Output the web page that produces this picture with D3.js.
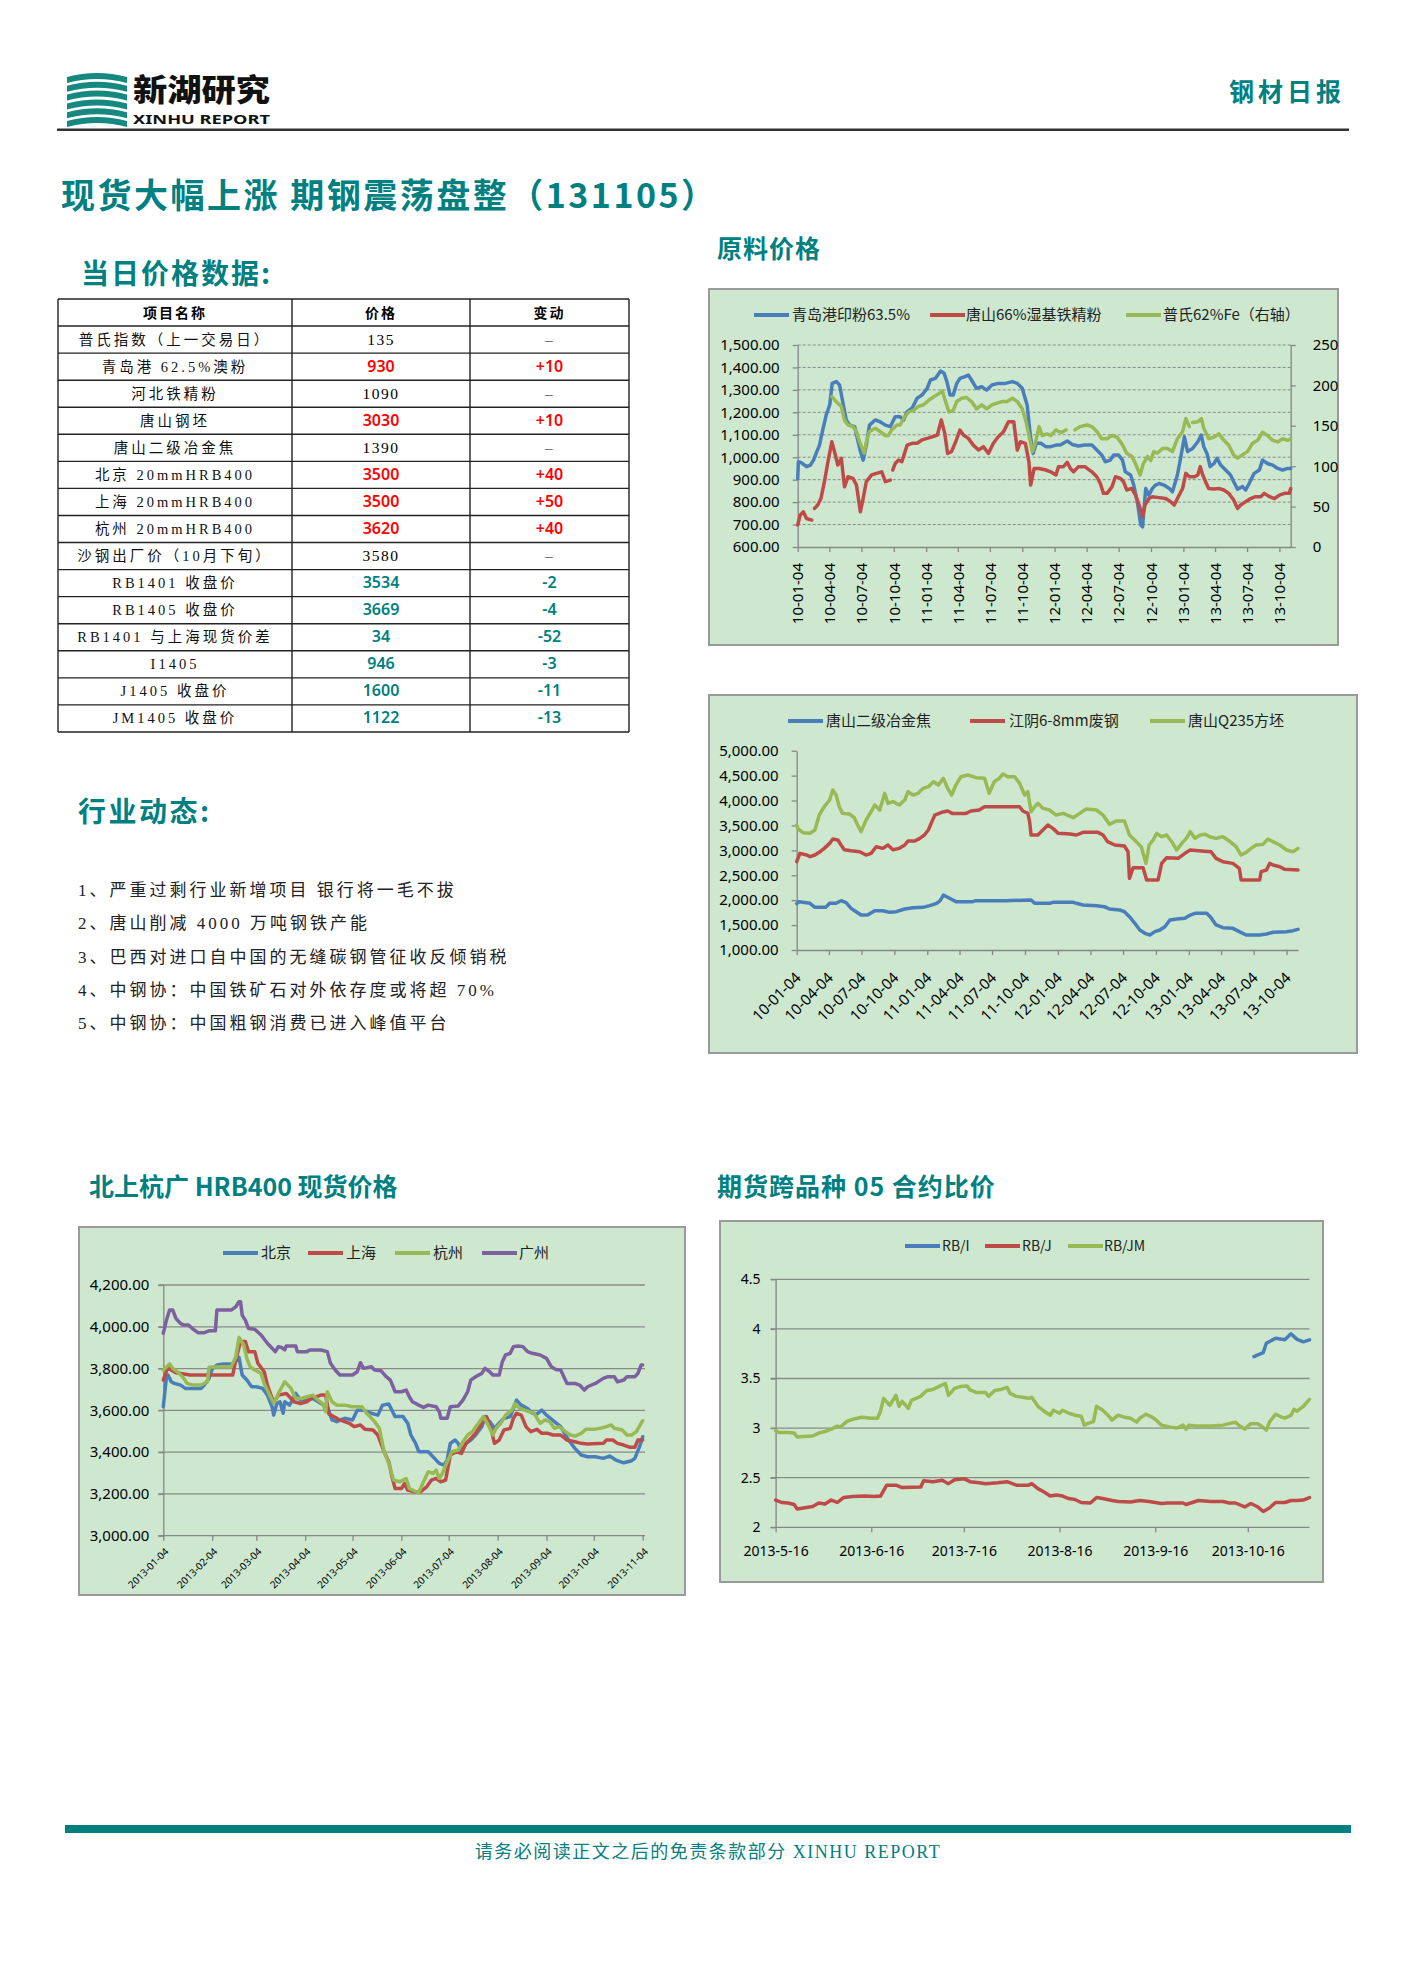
<!DOCTYPE html>
<html>
<head>
<meta charset="utf-8">
<script src="https://cdn.jsdelivr.net/npm/d3@7"></script>
<style>
  body { margin: 0; background: #fff; }
</style>
</head>
<body>
<svg id="page" width="1403" height="1985"></svg>
<script>
// ---------- data ----------
const itemNames = ["普氏指数（上一交易日）", "青岛港 62.5%澳粉", "河北铁精粉", "唐山钢坯", "唐山二级冶金焦",
  "北京 20mmHRB400", "上海 20mmHRB400", "杭州 20mmHRB400", "沙钢出厂价（10月下旬）", "RB1401 收盘价",
  "RB1405 收盘价", "RB1401 与上海现货价差", "I1405", "J1405 收盘价", "JM1405 收盘价"];
const itemPrices = ["135", "930", "1090", "3030", "1390", "3500", "3500", "3620", "3580", "3534", "3669", "34", "946", "1600", "1122"];
const itemChanges = ["–", "+10", "–", "+10", "–", "+40", "+50", "+40", "–", "-2", "-4", "-52", "-3", "-11", "-13"];
const tableHeader = ["项目名称", "价格", "变动"];

const newsItems = ["1、严重过剩行业新增项目  银行将一毛不拔", "2、唐山削减 4000 万吨钢铁产能",
  "3、巴西对进口自中国的无缝碳钢管征收反倾销税", "4、中钢协：中国铁矿石对外依存度或将超 70%",
  "5、中钢协：中国粗钢消费已进入峰值平台"];

const quarterTicks = ["2010-01-04", "2010-04-04", "2010-07-04", "2010-10-04", "2011-01-04", "2011-04-04", "2011-07-04", "2011-10-04",
  "2012-01-04", "2012-04-04", "2012-07-04", "2012-10-04", "2013-01-04", "2013-04-04", "2013-07-04", "2013-10-04"];

// chart 1: 原料价格
const oreNames = ["青岛港印粉63.5%", "唐山66%湿基铁精粉", "普氏62%Fe（右轴）"];
const oreQingdao = [["2010-01-04",905],["2010-01-06",980],["2010-01-15",975],["2010-01-29",958],["2010-02-09",965],["2010-02-18",987],["2010-02-27",1024],["2010-03-07",1054],["2010-03-16",1121],["2010-03-26",1188],["2010-04-05",1233],["2010-04-12",1329],["2010-04-24",1337],["2010-05-03",1322],["2010-05-12",1247],["2010-05-22",1166],["2010-06-01",1143],["2010-06-15",1136],["2010-06-29",1039],["2010-07-09",987],["2010-07-18",1054],["2010-07-27",1143],["2010-08-12",1166],["2010-08-26",1158],["2010-09-10",1143],["2010-09-24",1136],["2010-10-08",1180],["2010-10-22",1180],["2010-11-01",1166],["2010-11-11",1203],["2010-11-25",1218],["2010-12-09",1262],["2010-12-23",1277],["2011-01-07",1307],["2011-01-16",1344],["2011-01-30",1351],["2011-02-14",1384],["2011-02-24",1374],["2011-03-04",1337],["2011-03-13",1277],["2011-03-22",1277],["2011-04-01",1329],["2011-04-10",1351],["2011-04-24",1359],["2011-05-04",1366],["2011-05-13",1344],["2011-05-27",1307],["2011-06-11",1314],["2011-06-25",1299],["2011-07-10",1322],["2011-07-28",1329],["2011-08-17",1329],["2011-09-06",1337],["2011-09-20",1329],["2011-10-04",1307],["2011-10-18",1233],["2011-10-27",1099],["2011-11-04",1017],["2011-11-13",1062],["2011-11-26",1062],["2011-12-10",1047],["2011-12-24",1047],["2012-01-08",1054],["2012-01-20",1054],["2012-02-09",1072],["2012-02-23",1057],["2012-03-12",1050],["2012-03-30",1054],["2012-04-19",1054],["2012-05-03",1032],["2012-05-17",1010],["2012-05-27",980],["2012-06-10",987],["2012-06-20",1010],["2012-07-04",1010],["2012-07-15",987],["2012-07-23",935],["2012-08-07",921],["2012-08-16",876],["2012-08-26",802],["2012-09-05",698],["2012-09-10",690],["2012-09-19",861],["2012-09-28",831],["2012-10-08",861],["2012-10-17",876],["2012-10-27",883],["2012-11-10",876],["2012-11-25",861],["2012-12-04",846],["2012-12-18",921],["2012-12-27",995],["2013-01-07",1091],["2013-01-16",1025],["2013-01-30",1039],["2013-02-14",1069],["2013-02-24",1099],["2013-03-03",1047],["2013-03-12",1017],["2013-03-21",958],["2013-04-01",972],["2013-04-10",995],["2013-04-20",965],["2013-05-04",943],["2013-05-18",921],["2013-05-27",891],["2013-06-07",858],["2013-06-21",869],["2013-06-30",854],["2013-07-10",883],["2013-07-24",928],["2013-08-08",943],["2013-08-17",987],["2013-08-31",972],["2013-09-15",965],["2013-09-29",950],["2013-10-13",943],["2013-10-27",950],["2013-11-05",950]];
const oreTangshan = [["2010-01-04",698],["2010-01-11",742],["2010-01-20",757],["2010-01-29",727],["2010-02-13",720],["2010-02-17",null],["2010-02-21",772],["2010-03-02",787],["2010-03-11",816],["2010-03-21",891],["2010-03-30",972],["2010-04-11",1069],["2010-04-21",1010],["2010-04-28",965],["2010-05-08",995],["2010-05-17",868],["2010-05-27",913],["2010-06-10",906],["2010-06-20",876],["2010-07-01",757],["2010-07-09",816],["2010-07-18",891],["2010-08-02",921],["2010-08-16",928],["2010-08-31",935],["2010-09-10",891],["2010-09-24",898],["2010-09-28",null],["2010-10-01",943],["2010-10-08",972],["2010-10-17",987],["2010-10-27",980],["2010-11-11",1054],["2010-11-25",1062],["2010-12-09",1062],["2010-12-23",1077],["2011-01-07",1084],["2011-01-21",1091],["2011-02-05",1099],["2011-02-16",1166],["2011-02-26",1106],["2011-03-06",1017],["2011-03-17",1025],["2011-03-29",1069],["2011-04-10",1121],["2011-04-20",1099],["2011-05-04",1084],["2011-05-18",1054],["2011-06-02",1032],["2011-06-16",1047],["2011-06-30",1017],["2011-07-14",1062],["2011-07-28",1091],["2011-08-12",1114],["2011-08-26",1158],["2011-09-10",1158],["2011-09-20",1032],["2011-09-29",1069],["2011-10-13",1062],["2011-10-23",980],["2011-10-28",876],["2011-11-07",950],["2011-11-21",950],["2011-12-10",943],["2011-12-24",935],["2012-01-08",921],["2012-01-15",958],["2012-01-29",958],["2012-02-09",977],["2012-02-18",950],["2012-02-27",935],["2012-03-12",958],["2012-03-30",958],["2012-04-19",935],["2012-05-03",913],["2012-05-13",883],["2012-05-22",839],["2012-06-01",839],["2012-06-15",868],["2012-06-25",913],["2012-07-09",906],["2012-07-18",891],["2012-07-27",854],["2012-08-10",861],["2012-08-21",831],["2012-08-31",787],["2012-09-10",735],["2012-09-17",787],["2012-09-28",816],["2012-10-08",824],["2012-10-27",820],["2012-11-15",816],["2012-11-29",802],["2012-12-09",787],["2012-12-18",816],["2013-01-02",861],["2013-01-11",928],["2013-01-21",913],["2013-02-05",913],["2013-02-14",921],["2013-02-21",958],["2013-02-28",921],["2013-03-08",891],["2013-03-17",861],["2013-04-01",858],["2013-04-15",861],["2013-04-29",854],["2013-05-13",839],["2013-05-27",809],["2013-06-07",772],["2013-06-16",787],["2013-06-30",802],["2013-07-14",816],["2013-07-28",824],["2013-08-12",824],["2013-08-22",839],["2013-09-06",824],["2013-09-20",816],["2013-10-04",831],["2013-10-18",839],["2013-11-01",839],["2013-11-05",861]];
const orePlatts = [["2010-04-11",186],["2010-04-19",182],["2010-04-28",178],["2010-05-08",174],["2010-05-17",157],["2010-05-27",151],["2010-06-10",149],["2010-06-20",143],["2010-06-29",130],["2010-07-12",116],["2010-07-18",130],["2010-07-27",143],["2010-08-12",147],["2010-08-26",143],["2010-09-10",138],["2010-09-19",138],["2010-09-28",145],["2010-10-13",151],["2010-10-22",151],["2010-11-01",159],["2010-11-15",167],["2010-11-29",169],["2010-12-13",174],["2010-12-28",176],["2011-01-12",182],["2011-01-26",186],["2011-02-10",190],["2011-02-19",193],["2011-02-28",180],["2011-03-10",167],["2011-03-22",169],["2011-04-01",180],["2011-04-15",184],["2011-04-29",185],["2011-05-13",180],["2011-05-27",171],["2011-06-11",176],["2011-06-25",171],["2011-07-10",176],["2011-07-24",178],["2011-08-08",180],["2011-08-22",180],["2011-09-06",184],["2011-09-20",180],["2011-10-04",171],["2011-10-15",155],["2011-10-23",138],["2011-11-02",118],["2011-11-11",130],["2011-11-21",149],["2011-11-30",138],["2011-12-14",140],["2011-12-24",138],["2012-01-08",145],["2012-01-15",143],["2012-01-25",142],["2012-02-06",145],["2012-02-20",null],["2012-03-02",145],["2012-03-16",149],["2012-04-05",151],["2012-04-19",149],["2012-05-03",143],["2012-05-17",134],["2012-06-01",134],["2012-06-15",138],["2012-06-29",136],["2012-07-13",128],["2012-07-27",116],["2012-08-11",112],["2012-08-21",103],["2012-09-03",89],["2012-09-12",103],["2012-09-24",112],["2012-10-03",107],["2012-10-12",118],["2012-10-22",116],["2012-11-06",122],["2012-11-20",122],["2012-12-04",118],["2012-12-18",134],["2013-01-02",143],["2013-01-11",159],["2013-01-21",149],["2013-01-24",null],["2013-01-30",154],["2013-02-14",155],["2013-02-24",159],["2013-03-03",147],["2013-03-17",134],["2013-04-01",136],["2013-04-15",140],["2013-04-29",132],["2013-05-13",126],["2013-05-27",114],["2013-06-07",110],["2013-06-21",114],["2013-07-05",118],["2013-07-19",128],["2013-08-03",132],["2013-08-17",142],["2013-08-31",138],["2013-09-15",132],["2013-09-29",130],["2013-10-13",134],["2013-10-27",132],["2013-11-05",134]];

// chart 2: 焦炭 / 废钢 / 方坯
const rawNames = ["唐山二级冶金焦", "江阴6-8mm废钢", "唐山Q235方坯"];
const rawCoke = [["2010-01-04",1930],["2010-01-10",1970],["2010-02-01",1950],["2010-02-10",1937],["2010-02-24",1856],["2010-03-26",1856],["2010-04-06",1937],["2010-04-24",1937],["2010-05-08",1990],["2010-05-22",1950],["2010-06-05",1836],["2010-06-19",1769],["2010-07-03",1702],["2010-07-21",1702],["2010-08-10",1789],["2010-09-02",1789],["2010-09-21",1756],["2010-10-09",1769],["2010-11-02",1823],["2010-11-25",1850],["2010-12-23",1856],["2011-01-11",1890],["2011-01-30",1937],["2011-02-09",1990],["2011-02-18",2104],["2011-02-27",2070],["2011-03-11",2023],["2011-03-25",1970],["2011-05-11",1970],["2011-05-20",1990],["2011-08-12",1990],["2011-10-21",2003],["2011-10-31",1937],["2011-12-12",1937],["2011-12-21",1956],["2012-02-16",1956],["2012-02-25",1937],["2012-03-14",1903],["2012-04-21",1890],["2012-05-13",1870],["2012-05-27",1823],["2012-06-25",1803],["2012-07-08",1769],["2012-07-22",1669],["2012-08-06",1536],["2012-08-20",1401],["2012-09-03",1335],["2012-09-17",1301],["2012-10-01",1368],["2012-10-15",1401],["2012-10-29",1468],["2012-11-12",1602],["2012-12-01",1622],["2012-12-24",1636],["2013-01-08",1702],["2013-01-21",1736],["2013-02-23",1736],["2013-03-07",1649],["2013-03-21",1502],["2013-04-09",1448],["2013-05-07",1435],["2013-05-25",1368],["2013-06-13",1301],["2013-07-21",1301],["2013-08-09",1321],["2013-08-27",1355],["2013-10-04",1368],["2013-10-22",1388],["2013-11-05",1415]];
const rawScrap = [["2010-01-04",2773],["2010-01-13",2940],["2010-02-01",2906],["2010-02-10",2873],["2010-02-24",2906],["2010-03-08",2960],["2010-03-22",3040],["2010-04-06",3140],["2010-04-15",3227],["2010-04-29",3207],["2010-05-08",3107],["2010-05-17",3013],["2010-06-05",2993],["2010-06-29",2973],["2010-07-17",2906],["2010-07-31",2940],["2010-08-14",3073],["2010-09-02",3040],["2010-09-16",3107],["2010-09-30",3013],["2010-10-18",3040],["2010-11-02",3107],["2010-11-11",3187],["2010-11-30",3187],["2010-12-14",3241],["2010-12-27",3308],["2011-01-07",3408],["2011-01-16",3562],["2011-01-25",3709],["2011-02-13",3763],["2011-03-02",3789],["2011-03-15",3742],["2011-04-22",3742],["2011-05-06",3789],["2011-05-29",3809],["2011-06-13",3876],["2011-09-19",3876],["2011-09-28",3789],["2011-10-12",3742],["2011-10-17",3575],["2011-10-21",3308],["2011-11-09",3308],["2011-11-23",3408],["2011-12-07",3508],["2011-12-21",3441],["2012-01-05",3341],["2012-02-07",3328],["2012-02-25",3308],["2012-03-14",3361],["2012-04-25",3361],["2012-05-09",3308],["2012-05-22",3174],["2012-06-11",3107],["2012-07-08",3087],["2012-07-18",2973],["2012-07-22",2438],["2012-08-01",2652],["2012-08-29",2652],["2012-09-08",2405],["2012-10-10",2405],["2012-10-20",2739],["2012-11-03",2853],["2012-12-05",2840],["2012-12-24",2940],["2013-01-08",3007],["2013-01-30",2993],["2013-03-07",2973],["2013-03-21",2840],["2013-04-09",2773],["2013-05-07",2739],["2013-05-25",2639],["2013-05-30",2405],["2013-07-21",2405],["2013-07-25",2572],["2013-08-09",2605],["2013-08-18",2739],["2013-08-27",2706],["2013-09-15",2672],["2013-09-29",2619],["2013-11-05",2605]];
const rawBillet = [["2010-01-04",3508],["2010-01-08",3428],["2010-01-22",3354],["2010-02-10",3341],["2010-02-24",3408],["2010-03-08",3709],["2010-03-22",3876],["2010-04-06",4010],["2010-04-15",4211],["2010-04-24",4110],["2010-05-03",3876],["2010-05-12",3742],["2010-05-31",3729],["2010-06-14",3655],["2010-06-23",3508],["2010-07-03",3375],["2010-07-17",3609],["2010-07-31",3776],["2010-08-10",3910],["2010-08-24",3809],["2010-09-07",4144],["2010-09-16",3943],["2010-09-30",3977],["2010-10-18",3910],["2010-11-02",4010],["2010-11-11",4177],["2010-11-25",4110],["2010-12-09",4144],["2010-12-23",4244],["2011-01-07",4278],["2011-01-21",4378],["2011-02-04",4311],["2011-02-18",4445],["2011-03-02",4244],["2011-03-13",4110],["2011-03-25",4311],["2011-04-08",4478],["2011-04-27",4512],["2011-05-20",4458],["2011-06-13",4445],["2011-06-26",4144],["2011-07-10",4378],["2011-07-24",4445],["2011-08-03",4532],["2011-08-17",4478],["2011-09-05",4478],["2011-09-19",4345],["2011-10-03",4110],["2011-10-12",4177],["2011-10-21",3776],["2011-10-31",3876],["2011-11-09",3943],["2011-11-23",3843],["2011-12-12",3809],["2011-12-30",3709],["2012-01-19",3742],["2012-02-16",3655],["2012-03-05",3742],["2012-03-23",3829],["2012-04-21",3809],["2012-05-09",3709],["2012-05-27",3522],["2012-06-15",3589],["2012-07-08",3589],["2012-07-22",3308],["2012-08-10",3174],["2012-08-24",3074],["2012-09-06",2739],["2012-09-15",3107],["2012-09-26",3207],["2012-10-06",3341],["2012-10-20",3274],["2012-11-03",3308],["2012-11-17",3174],["2012-12-01",3007],["2012-12-15",3140],["2012-12-28",3241],["2013-01-08",3375],["2013-01-21",3241],["2013-02-05",3308],["2013-02-19",3321],["2013-03-03",3274],["2013-03-21",3241],["2013-04-09",3274],["2013-04-27",3187],["2013-05-16",3074],["2013-05-30",2906],["2013-06-13",2960],["2013-06-27",3040],["2013-07-11",3107],["2013-07-30",3120],["2013-08-13",3227],["2013-08-27",3174],["2013-09-15",3107],["2013-10-04",3007],["2013-10-22",2973],["2013-11-05",3040]];

// chart 3: 北上杭广 HRB400
const cityNames = ["北京", "上海", "杭州", "广州"];
const monthTicks = ["2013-01-04", "2013-02-04", "2013-03-04", "2013-04-04", "2013-05-04", "2013-06-04", "2013-07-04", "2013-08-04", "2013-09-04", "2013-10-04", "2013-11-04"];
const hrbBeijing = [["2013-01-04",3617],["2013-01-06",3761],["2013-01-07",3769],["2013-01-09",3737],["2013-01-11",3729],["2013-01-15",3721],["2013-01-18",3705],["2013-01-28",3705],["2013-01-30",3721],["2013-02-02",3753],["2013-02-04",3798],["2013-02-07",3817],["2013-02-11",3822],["2013-02-17",3822],["2013-02-21",3854],["2013-02-23",3769],["2013-02-26",3745],["2013-03-01",3713],["2013-03-04",3713],["2013-03-08",3705],["2013-03-11",3673],["2013-03-14",3617],["2013-03-15",3577],["2013-03-17",3633],["2013-03-19",3641],["2013-03-21",3586],["2013-03-22",3641],["2013-03-25",3625],["2013-03-27",3649],["2013-03-29",3681],["2013-04-01",3649],["2013-04-05",3649],["2013-04-09",3657],["2013-04-14",3633],["2013-04-18",3617],["2013-04-21",3554],["2013-04-24",3546],["2013-04-29",3562],["2013-05-04",3554],["2013-05-07",3601],["2013-05-11",3601],["2013-05-16",3586],["2013-05-20",3577],["2013-05-23",3625],["2013-05-27",3630],["2013-05-31",3570],["2013-06-05",3570],["2013-06-08",3538],["2013-06-10",3482],["2013-06-13",3442],["2013-06-15",3402],["2013-06-21",3402],["2013-06-25",3370],["2013-06-28",3346],["2013-07-01",3338],["2013-07-03",3362],["2013-07-05",3442],["2013-07-08",3458],["2013-07-10",3442],["2013-07-12",3402],["2013-07-15",3442],["2013-07-18",3458],["2013-07-21",3482],["2013-07-25",3522],["2013-07-27",3570],["2013-07-30",3546],["2013-08-02",3514],["2013-08-05",3538],["2013-08-08",3562],["2013-08-12",3570],["2013-08-16",3649],["2013-08-19",3625],["2013-08-23",3609],["2013-08-26",3586],["2013-08-29",3583],["2013-09-01",3601],["2013-09-04",3577],["2013-09-09",3546],["2013-09-13",3522],["2013-09-18",3458],["2013-09-22",3418],["2013-09-26",3386],["2013-09-30",3378],["2013-10-05",3378],["2013-10-10",3370],["2013-10-14",3381],["2013-10-18",3362],["2013-10-23",3349],["2013-10-28",3359],["2013-10-30",3370],["2013-11-02",3426],["2013-11-04",3474]];
const hrbShanghai = [["2013-01-04",3745],["2013-01-07",3809],["2013-01-09",3793],["2013-01-12",3780],["2013-01-17",3774],["2013-01-21",3769],["2013-02-17",3769],["2013-02-19",3841],["2013-02-22",3929],["2013-02-25",3929],["2013-02-27",3881],["2013-03-03",3881],["2013-03-05",3825],["2013-03-09",3785],["2013-03-11",3721],["2013-03-14",3657],["2013-03-16",3649],["2013-03-18",3673],["2013-03-23",3681],["2013-03-28",3641],["2013-04-01",3633],["2013-04-05",3641],["2013-04-08",3657],["2013-04-14",3673],["2013-04-17",3673],["2013-04-19",3583],["2013-04-22",3570],["2013-04-26",3554],["2013-05-02",3538],["2013-05-05",3522],["2013-05-09",3530],["2013-05-12",3509],["2013-05-17",3506],["2013-05-20",3482],["2013-05-24",3402],["2013-05-27",3354],["2013-05-29",3282],["2013-05-31",3226],["2013-06-04",3226],["2013-06-06",3250],["2013-06-08",3218],["2013-06-12",3210],["2013-06-16",3210],["2013-06-20",3234],["2013-06-23",3266],["2013-06-26",3274],["2013-06-29",3258],["2013-07-02",3266],["2013-07-05",3386],["2013-07-09",3402],["2013-07-12",3394],["2013-07-15",3442],["2013-07-18",3466],["2013-07-21",3490],["2013-07-25",3538],["2013-07-28",3570],["2013-07-31",3506],["2013-08-02",3442],["2013-08-05",3458],["2013-08-08",3506],["2013-08-12",3514],["2013-08-14",3562],["2013-08-16",3586],["2013-08-19",3577],["2013-08-22",3522],["2013-08-25",3498],["2013-08-29",3509],["2013-09-01",3490],["2013-09-05",3490],["2013-09-08",3482],["2013-09-13",3482],["2013-09-17",3458],["2013-09-22",3450],["2013-09-26",3442],["2013-09-30",3439],["2013-10-10",3442],["2013-10-12",3458],["2013-10-16",3458],["2013-10-19",3442],["2013-10-23",3434],["2013-10-27",3423],["2013-10-30",3423],["2013-11-01",3458],["2013-11-04",3458]];
const hrbHangzhou = [["2013-01-04",3793],["2013-01-08",3822],["2013-01-10",3801],["2013-01-14",3777],["2013-01-17",3753],["2013-01-19",3729],["2013-01-23",3721],["2013-01-28",3721],["2013-02-01",3737],["2013-02-02",3806],["2013-02-07",3809],["2013-02-16",3809],["2013-02-19",3857],["2013-02-21",3949],["2013-02-24",3913],["2013-02-26",3849],["2013-02-28",3809],["2013-03-03",3793],["2013-03-07",3777],["2013-03-09",3729],["2013-03-12",3681],["2013-03-15",3633],["2013-03-18",3681],["2013-03-22",3737],["2013-03-26",3705],["2013-03-29",3657],["2013-04-02",3657],["2013-04-05",3665],["2013-04-09",3673],["2013-04-12",3649],["2013-04-15",3633],["2013-04-17",3594],["2013-04-18",3689],["2013-04-21",3641],["2013-04-24",3625],["2013-04-29",3625],["2013-05-04",3617],["2013-05-10",3617],["2013-05-13",3586],["2013-05-18",3546],["2013-05-21",3514],["2013-05-24",3402],["2013-05-27",3346],["2013-05-30",3266],["2013-06-03",3258],["2013-06-07",3274],["2013-06-09",3226],["2013-06-12",3215],["2013-06-15",3206],["2013-06-17",3242],["2013-06-21",3306],["2013-06-24",3298],["2013-06-26",3314],["2013-06-28",3274],["2013-06-30",3298],["2013-07-03",3354],["2013-07-06",3402],["2013-07-10",3410],["2013-07-13",3450],["2013-07-16",3482],["2013-07-19",3498],["2013-07-22",3530],["2013-07-26",3570],["2013-07-29",3530],["2013-08-01",3482],["2013-08-03",3514],["2013-08-06",3538],["2013-08-09",3577],["2013-08-13",3601],["2013-08-15",3633],["2013-08-18",3609],["2013-08-21",3601],["2013-08-27",3586],["2013-08-31",3538],["2013-09-03",3554],["2013-09-06",3546],["2013-09-09",3514],["2013-09-12",3522],["2013-09-16",3498],["2013-09-19",3482],["2013-09-22",3477],["2013-09-26",3490],["2013-09-29",3509],["2013-10-04",3509],["2013-10-08",3514],["2013-10-12",3522],["2013-10-15",3530],["2013-10-17",3514],["2013-10-22",3506],["2013-10-25",3482],["2013-10-28",3482],["2013-10-31",3498],["2013-11-03",3538],["2013-11-04",3550]];
const hrbGuangzhou = [["2013-01-04",3969],["2013-01-06",4032],["2013-01-08",4080],["2013-01-10",4080],["2013-01-12",4040],["2013-01-15",4016],["2013-01-17",4008],["2013-01-20",4008],["2013-01-23",3988],["2013-01-26",3972],["2013-01-30",3972],["2013-02-02",3981],["2013-02-06",3981],["2013-02-07",4080],["2013-02-16",4080],["2013-02-19",4096],["2013-02-21",4120],["2013-02-22",4120],["2013-02-23",4056],["2013-02-25",4032],["2013-02-27",3992],["2013-03-03",3988],["2013-03-07",3961],["2013-03-11",3921],["2013-03-14",3897],["2013-03-16",3881],["2013-03-18",3905],["2013-03-20",3901],["2013-03-22",3889],["2013-03-23",3908],["2013-03-29",3908],["2013-03-30",3881],["2013-04-05",3881],["2013-04-07",3889],["2013-04-14",3889],["2013-04-18",3881],["2013-04-20",3825],["2013-04-23",3793],["2013-04-26",3769],["2013-05-04",3769],["2013-05-07",3785],["2013-05-09",3828],["2013-05-11",3801],["2013-05-16",3809],["2013-05-18",3793],["2013-05-22",3790],["2013-05-25",3764],["2013-05-28",3745],["2013-05-31",3689],["2013-06-04",3689],["2013-06-07",3697],["2013-06-09",3665],["2013-06-11",3641],["2013-06-15",3625],["2013-06-18",3614],["2013-06-21",3625],["2013-06-26",3617],["2013-06-28",3594],["2013-06-29",3562],["2013-07-03",3562],["2013-07-05",3617],["2013-07-10",3621],["2013-07-13",3649],["2013-07-16",3689],["2013-07-18",3745],["2013-07-21",3761],["2013-07-25",3777],["2013-07-27",3801],["2013-07-30",3785],["2013-08-01",3769],["2013-08-05",3769],["2013-08-07",3833],["2013-08-09",3865],["2013-08-12",3873],["2013-08-14",3905],["2013-08-17",3908],["2013-08-20",3905],["2013-08-23",3881],["2013-08-26",3873],["2013-08-31",3865],["2013-09-04",3849],["2013-09-07",3809],["2013-09-10",3796],["2013-09-13",3793],["2013-09-17",3729],["2013-09-22",3729],["2013-09-25",3721],["2013-09-28",3697],["2013-09-30",3713],["2013-10-05",3729],["2013-10-10",3753],["2013-10-13",3761],["2013-10-17",3761],["2013-10-19",3737],["2013-10-23",3745],["2013-10-25",3761],["2013-10-30",3761],["2013-11-01",3777],["2013-11-03",3817],["2013-11-04",3817]];

// chart 4: 期货跨品种 05 合约比价
const ratioNames = ["RB/I", "RB/J", "RB/JM"];
const ratioTicks = ["2013-05-16", "2013-06-16", "2013-07-16", "2013-08-16", "2013-09-16", "2013-10-16"];
const ratioRbI = [["2013-10-18",3.72],["2013-10-21",3.76],["2013-10-22",3.855],["2013-10-25",3.905],["2013-10-28",3.89],["2013-10-30",3.95],["2013-11-01",3.895],["2013-11-03",3.87],["2013-11-05",3.89]];
const ratioRbJ = [["2013-05-16",2.275],["2013-05-18",2.25],["2013-05-20",2.245],["2013-05-22",2.23],["2013-05-23",2.185],["2013-05-26",2.2],["2013-05-28",2.21],["2013-05-30",2.245],["2013-06-01",2.235],["2013-06-03",2.275],["2013-06-05",2.25],["2013-06-07",2.3],["2013-06-10",2.31],["2013-06-14",2.315],["2013-06-17",2.31],["2013-06-19",2.315],["2013-06-21",2.425],["2013-06-24",2.425],["2013-06-26",2.4],["2013-07-02",2.405],["2013-07-03",2.47],["2013-07-06",2.46],["2013-07-09",2.475],["2013-07-11",2.44],["2013-07-13",2.48],["2013-07-16",2.49],["2013-07-18",2.46],["2013-07-21",2.45],["2013-07-23",2.44],["2013-07-27",2.45],["2013-07-30",2.46],["2013-08-02",2.425],["2013-08-06",2.425],["2013-08-07",2.44],["2013-08-09",2.39],["2013-08-11",2.355],["2013-08-13",2.315],["2013-08-15",2.325],["2013-08-17",2.315],["2013-08-19",2.29],["2013-08-21",2.28],["2013-08-23",2.25],["2013-08-26",2.245],["2013-08-28",2.3],["2013-08-30",2.29],["2013-09-02",2.27],["2013-09-04",2.26],["2013-09-08",2.255],["2013-09-11",2.27],["2013-09-14",2.26],["2013-09-18",2.24],["2013-09-20",2.245],["2013-09-25",2.245],["2013-09-26",2.23],["2013-09-30",2.27],["2013-10-04",2.26],["2013-10-08",2.26],["2013-10-10",2.245],["2013-10-12",2.245],["2013-10-15",2.205],["2013-10-17",2.24],["2013-10-19",2.21],["2013-10-21",2.16],["2013-10-23",2.195],["2013-10-25",2.25],["2013-10-28",2.25],["2013-10-30",2.27],["2013-11-01",2.27],["2013-11-03",2.275],["2013-11-05",2.3]];
const ratioRbJm = [["2013-05-16",2.975],["2013-05-17",2.955],["2013-05-20",2.955],["2013-05-22",2.95],["2013-05-23",2.91],["2013-05-25",2.915],["2013-05-28",2.92],["2013-05-30",2.95],["2013-06-01",2.965],["2013-06-03",2.99],["2013-06-05",3.02],["2013-06-06",3.01],["2013-06-08",3.065],["2013-06-10",3.09],["2013-06-13",3.11],["2013-06-16",3.1],["2013-06-18",3.1],["2013-06-19",3.17],["2013-06-20",3.3],["2013-06-22",3.23],["2013-06-24",3.33],["2013-06-25",3.22],["2013-06-26",3.27],["2013-06-28",3.2],["2013-06-29",3.28],["2013-07-02",3.32],["2013-07-04",3.38],["2013-07-06",3.39],["2013-07-08",3.42],["2013-07-10",3.45],["2013-07-11",3.33],["2013-07-13",3.4],["2013-07-15",3.42],["2013-07-17",3.425],["2013-07-18",3.385],["2013-07-20",3.36],["2013-07-23",3.36],["2013-07-24",3.32],["2013-07-26",3.38],["2013-07-28",3.39],["2013-07-30",3.41],["2013-07-31",3.35],["2013-08-02",3.32],["2013-08-04",3.31],["2013-08-06",3.3],["2013-08-07",3.31],["2013-08-09",3.22],["2013-08-11",3.17],["2013-08-13",3.13],["2013-08-14",3.18],["2013-08-16",3.15],["2013-08-17",3.18],["2013-08-19",3.15],["2013-08-21",3.13],["2013-08-23",3.12],["2013-08-24",3.03],["2013-08-25",3.045],["2013-08-27",3.065],["2013-08-28",3.22],["2013-08-30",3.18],["2013-09-01",3.12],["2013-09-02",3.08],["2013-09-04",3.13],["2013-09-06",3.11],["2013-09-08",3.1],["2013-09-10",3.06],["2013-09-11",3.1],["2013-09-13",3.14],["2013-09-15",3.11],["2013-09-16",3.09],["2013-09-18",3.03],["2013-09-21",3.01],["2013-09-23",3.0],["2013-09-25",3.03],["2013-09-26",2.99],["2013-09-27",3.03],["2013-09-30",3.02],["2013-10-04",3.02],["2013-10-08",3.03],["2013-10-10",3.045],["2013-10-12",3.06],["2013-10-13",3.03],["2013-10-15",2.99],["2013-10-17",3.045],["2013-10-19",3.045],["2013-10-20",3.03],["2013-10-22",2.98],["2013-10-23",3.06],["2013-10-25",3.14],["2013-10-27",3.11],["2013-10-28",3.1],["2013-10-30",3.13],["2013-10-31",3.19],["2013-11-01",3.17],["2013-11-03",3.22],["2013-11-05",3.29]];

// ---------- page ----------
const svg = d3.select("#page");
const parse = d3.timeParse("%Y-%m-%d");
const teal = "#008080";
const chartBg = "#cde8cf";
const cjk = "'Noto Sans CJK SC', 'Noto Sans', sans-serif";
const serif = "'Liberation Serif', 'Noto Sans CJK SC', serif";
const num = "'Noto Sans', 'Noto Sans CJK SC', sans-serif";
const blue = "#4a7ebb", red = "#be4b48", green = "#98b954", purple = "#7d60a0";

function label(x, y, str, size, color, family, weight, extra) {
  const t = svg.append("text").attr("x", x).attr("y", y).text(str)
    .attr("font-size", size).attr("fill", color).attr("font-family", family)
    .attr("font-weight", weight || 400);
  if (extra) extra(t);
  return t;
}

// header
const logo = svg.append("g").attr("transform", "translate(67,70)");
d3.range(6).forEach(i => {
  const y = 7 + i * 8.8;
  logo.append("path")
    .attr("d", `M0,${y + 6} L0,${y} Q30,${y - 8} 60,${y} L60,${y + 6} Q30,${y - 2} 0,${y + 6} Z`)
    .attr("fill", "#15897f");
});
label(133, 101, "新湖研究", 31, "#111", cjk, 900, t => t.attr("textLength", 137).attr("lengthAdjust", "spacingAndGlyphs"));
label(133, 124, "XINHU REPORT", 13, "#111", num, 700, t => t.attr("textLength", 137).attr("lengthAdjust", "spacingAndGlyphs"));
label(1345, 101, "钢材日报", 25, teal, cjk, 700, t => t.attr("text-anchor", "end").attr("letter-spacing", 4));
svg.append("rect").attr("x", 57).attr("y", 128.5).attr("width", 1292).attr("height", 2.5).attr("fill", "#333");

label(61, 208, "现货大幅上涨  期钢震荡盘整（131105）", 34, teal, cjk, 700, t => t.attr("letter-spacing", 2.5));

// table
label(81, 284, "当日价格数据:", 28, teal, cjk, 700, t => t.attr("letter-spacing", 2));
const colX = [58, 292, 470, 629];
const tblTop = 299, rowH = 27.06;
const tbl = svg.append("g");
const rows = [tableHeader].concat(itemNames.map((n, i) => [n, itemPrices[i], itemChanges[i]]));
rows.forEach((r, i) => {
  const cy = tblTop + i * rowH + rowH / 2 + 5;
  const ch = r[2];
  const col = i === 0 ? "#000" : ch.startsWith("+") ? "#ff0000" : ch.startsWith("-") ? teal : "#000";
  r.forEach((cell, j) => {
    const t = tbl.append("text").attr("x", (colX[j] + colX[j + 1]) / 2).attr("y", cy)
      .attr("text-anchor", "middle").text(cell);
    if (i === 0) {
      t.attr("font-family", cjk).attr("font-weight", 700).attr("font-size", 14).attr("letter-spacing", 2);
    } else if (j === 0) {
      t.attr("font-family", serif).attr("font-size", 14.5).attr("letter-spacing", 3).attr("fill", "#111");
    } else {
      const bold = col !== "#000";
      t.attr("font-family", bold ? num : serif).attr("font-size", bold ? 16 : 15.5)
        .attr("font-weight", bold ? 600 : 400).attr("fill", col).attr("letter-spacing", bold ? 0 : 1.5);
    }
  });
});
d3.range(rows.length + 1).forEach(i => {
  tbl.append("line").attr("x1", colX[0]).attr("x2", colX[3])
    .attr("y1", tblTop + i * rowH).attr("y2", tblTop + i * rowH)
    .attr("stroke", "#222").attr("stroke-width", 1.4);
});
colX.forEach(x => {
  tbl.append("line").attr("x1", x).attr("x2", x).attr("y1", tblTop).attr("y2", tblTop + rows.length * rowH)
    .attr("stroke", "#222").attr("stroke-width", 1.4);
});

// news
label(78, 822, "行业动态:", 28, teal, cjk, 700, t => t.attr("letter-spacing", 2.5));
newsItems.forEach((s, i) => {
  label(78, 896 + i * 33.3, s, 17, "#222", serif, 400, t => t.attr("letter-spacing", 3));
});

// chart headings
label(717, 258, "原料价格", 25, teal, cjk, 700, t => t.attr("letter-spacing", 1));
label(89, 1196, "北上杭广 HRB400 现货价格", 25, teal, cjk, 700);
label(717, 1196, "期货跨品种 05 合约比价", 25, teal, cjk, 700, t => t.attr("letter-spacing", 1));

// footer
svg.append("rect").attr("x", 65).attr("y", 1825).attr("width", 1286).attr("height", 8).attr("fill", "#007f7f");
label(708, 1858, "请务必阅读正文之后的免责条款部分 XINHU REPORT", 18, teal, serif, 400,
  t => t.attr("text-anchor", "middle").attr("letter-spacing", 1.5));

// ---------- chart helpers ----------
function chartBox(x, y, w, h) {
  svg.append("rect").attr("x", x).attr("y", y).attr("width", w).attr("height", h)
    .attr("fill", chartBg).attr("stroke", "#9a9a9a").attr("stroke-width", 2);
}
function legend(names, colors, lineX, textX, y, size) {
  names.forEach((n, i) => {
    svg.append("line").attr("x1", lineX[i]).attr("x2", lineX[i] + 35).attr("y1", y).attr("y2", y)
      .attr("stroke", colors[i]).attr("stroke-width", 4);
    label(textX[i], y + size * 0.36, n, size, "#222", cjk, 400);
  });
}
function styleAxis(g, size) {
  g.attr("font-family", num).attr("font-size", size);
  g.select(".domain").attr("stroke", "#868686").attr("stroke-width", 1.3);
  g.selectAll(".tick line").attr("stroke", "#868686").attr("stroke-width", 1.3);
  g.selectAll(".tick text").attr("fill", "#000");
}
function series(data, x, y, color) {
  svg.append("path")
    .datum(data.map(d => [parse(d[0]), d[1]]))
    .attr("d", d3.line().defined(d => d[1] != null).x(d => x(d[0])).y(d => y(d[1])))
    .attr("fill", "none").attr("stroke", color).attr("stroke-width", 3.5)
    .attr("stroke-linejoin", "round").attr("stroke-linecap", "round");
}
const fmt2 = d3.format(",.2f");

// ---------- chart 1 ----------
chartBox(709, 289, 629, 356);
legend(oreNames, [blue, red, green], [754, 930, 1126], [792, 966, 1163], 315, 15);
const x1 = d3.scaleTime().domain([parse("2010-01-04"), parse("2013-11-05")]).range([797.7, 1290.7]);
const y1 = d3.scaleLinear().domain([600, 1500]).range([547, 345]);
const y1r = d3.scaleLinear().domain([0, 250]).range([547, 345]);
svg.append("g").selectAll("line").data(d3.range(700, 1501, 100)).join("line")
  .attr("x1", 797.7).attr("x2", 1290.7).attr("y1", d => y1(d)).attr("y2", d => y1(d))
  .attr("stroke", "#8a8a8a").attr("stroke-width", 1).attr("stroke-dasharray", "3,2");
const ax1l = svg.append("g").attr("transform", "translate(797.7,0)")
  .call(d3.axisLeft(y1).tickValues(d3.range(600, 1501, 100)).tickFormat(fmt2).tickSize(5).tickPadding(13).tickSizeOuter(0));
styleAxis(ax1l, 15);
const ax1r = svg.append("g").attr("transform", "translate(1290.7,0)")
  .call(d3.axisRight(y1r).tickValues(d3.range(0, 251, 50)).tickSize(5).tickPadding(17).tickSizeOuter(0));
styleAxis(ax1r, 15);
const ax1b = svg.append("g").attr("transform", "translate(0,547)")
  .call(d3.axisBottom(x1).tickValues(quarterTicks.map(parse)).tickFormat(d3.timeFormat("%y-%m-%d")).tickSize(5).tickSizeOuter(0));
styleAxis(ax1b, 15);
ax1b.selectAll(".tick text").attr("transform", "rotate(-90)").attr("x", -16).attr("y", 0)
  .attr("dy", "0.35em").style("text-anchor", "end");
series(oreQingdao, x1, y1, blue);
series(oreTangshan, x1, y1, red);
series(orePlatts, x1, y1r, green);

// ---------- chart 2 ----------
chartBox(709, 695, 648, 358);
legend(rawNames, [blue, red, green], [788, 970, 1150], [826, 1009, 1188], 721, 15);
const x2 = d3.scaleTime().domain([parse("2010-01-04"), parse("2013-11-05")]).range([796.7, 1298]);
const y2 = d3.scaleLinear().domain([1000, 5000]).range([950, 750.7]);
const ax2l = svg.append("g").attr("transform", "translate(796.7,0)")
  .call(d3.axisLeft(y2).tickValues(d3.range(1000, 5001, 500)).tickFormat(fmt2).tickSize(5).tickPadding(13).tickSizeOuter(0));
styleAxis(ax2l, 15);
const ax2b = svg.append("g").attr("transform", "translate(0,950)")
  .call(d3.axisBottom(x2).tickValues(quarterTicks.map(parse)).tickFormat(d3.timeFormat("%y-%m-%d")).tickSize(5).tickSizeOuter(0));
styleAxis(ax2b, 15);
ax2b.selectAll(".tick text").attr("x", 0).attr("y", 0).attr("dy", "0.35em")
  .attr("transform", "translate(1,25) rotate(-45)").style("text-anchor", "end");
series(rawCoke, x2, y2, blue);
series(rawScrap, x2, y2, red);
series(rawBillet, x2, y2, green);

// ---------- chart 3 ----------
chartBox(79, 1227, 606, 368);
legend(cityNames, [blue, red, green, purple], [223, 308, 395, 482], [261, 346, 433, 519], 1253, 15);
const x3 = d3.scaleTime().domain([parse("2013-01-04"), parse("2013-11-04")]).range([163.3, 642.7]);
const y3 = d3.scaleLinear().domain([3000, 4200]).range([1535.7, 1285]);
svg.append("g").selectAll("line").data(d3.range(3200, 4201, 200)).join("line")
  .attr("x1", 158.3).attr("x2", 645).attr("y1", d => y3(d)).attr("y2", d => y3(d))
  .attr("stroke", "#8a8a8a").attr("stroke-width", 1.3);
const ax3l = svg.append("g").attr("transform", "translate(163.3,0)")
  .call(d3.axisLeft(y3).tickValues(d3.range(3000, 4201, 200)).tickFormat(fmt2).tickSize(5).tickPadding(9).tickSizeOuter(0));
styleAxis(ax3l, 15);
const ax3b = svg.append("g").attr("transform", "translate(0,1535.7)")
  .call(d3.axisBottom(x3).tickValues(monthTicks.map(parse)).tickFormat(d3.timeFormat("%Y-%m-%d")).tickSize(5).tickSizeOuter(0));
styleAxis(ax3b, 10);
ax3b.select(".domain").attr("d", "M158.3,0H645");
ax3b.selectAll(".tick text").attr("x", 0).attr("y", 0).attr("dy", "0.35em")
  .attr("transform", "translate(3,14) rotate(-45)").style("text-anchor", "end");
series(hrbBeijing, x3, y3, blue);
series(hrbShanghai, x3, y3, red);
series(hrbHangzhou, x3, y3, green);
series(hrbGuangzhou, x3, y3, purple);

// ---------- chart 4 ----------
chartBox(720, 1221, 603, 361);
legend(ratioNames, [blue, red, green], [905, 985, 1068], [942, 1022, 1104], 1246, 14);
const x4 = d3.scaleTime().domain([parse("2013-05-16"), parse("2013-11-05")]).range([775.6, 1309.5]);
const y4 = d3.scaleLinear().domain([2, 4.5]).range([1527.3, 1279.3]);
svg.append("g").selectAll("line").data(d3.range(2.5, 4.51, 0.5)).join("line")
  .attr("x1", 770.6).attr("x2", 1309.5).attr("y1", d => y4(d)).attr("y2", d => y4(d))
  .attr("stroke", "#8a8a8a").attr("stroke-width", 1.3);
const ax4l = svg.append("g").attr("transform", "translate(775.6,0)")
  .call(d3.axisLeft(y4).tickValues(d3.range(2, 4.51, 0.5)).tickFormat(d3.format("~g")).tickSize(5).tickPadding(10).tickSizeOuter(0));
styleAxis(ax4l, 14);
const ax4b = svg.append("g").attr("transform", "translate(0,1527.3)")
  .call(d3.axisBottom(x4).tickValues(ratioTicks.map(parse)).tickFormat(d3.timeFormat("%Y-%-m-%-d")).tickSize(5).tickPadding(14).tickSizeOuter(0));
styleAxis(ax4b, 14);
ax4b.select(".domain").attr("d", "M770.6,0H1309.5");
series(ratioRbI, x4, y4, blue);
series(ratioRbJ, x4, y4, red);
series(ratioRbJm, x4, y4, green);
</script>
</body>
</html>
